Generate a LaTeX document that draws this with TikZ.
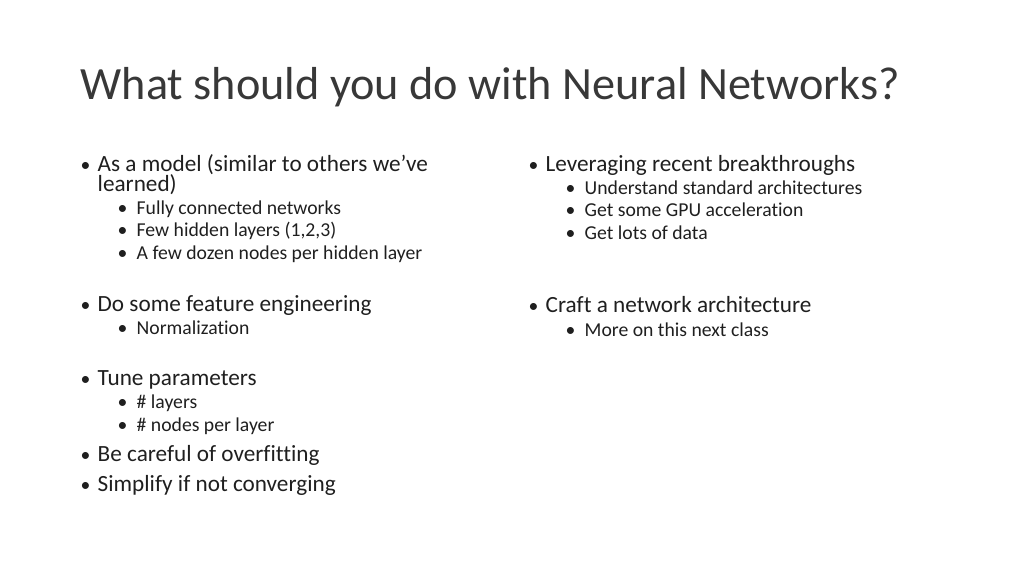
\documentclass[tikz,border=0pt]{standalone}
\usepackage{fontspec}
\setmainfont[Ligatures=NoCommon]{Carlito}
\begin{document}
\begin{tikzpicture}[x=0.01cm,y=-0.01cm,
  every node/.style={anchor=base west,inner sep=0pt},
  ttl/.style={font=\fontsize{13.15pt}{14pt}\selectfont,color=black!78},
  lone/.style={font=\fontsize{6.6pt}{7pt}\selectfont,color=black!88},
  ltwo/.style={font=\fontsize{5.6pt}{6pt}\selectfont,color=black!88}]
\useasboundingbox (0,0) rectangle (1024,576);
\node[ttl] (title) at (80,100) {What should you do with Neural Networks?};
% left column
\node[ltwo] (b1) at (80,172) {\textbullet};
\node[lone] (model) at (97,172) {As a model (similar to others we’ve};
\node[lone] (learned) at (97,192) {learned)};
\foreach \y/\t/\n in {215/Fully connected networks/fc,237/{Few hidden layers (1,2,3)}/few,259/A few dozen nodes per hidden layer/dozen}{
  \node[ltwo] (\n b) at (117,\y) {\textbullet};
  \node[ltwo] (\n) at (136,\y) {\t};
}
\node[ltwo] (b2) at (80,311) {\textbullet};
\node[lone] (feat) at (97,311) {Do some feature engineering};
\node[ltwo] (normb) at (117,334) {\textbullet};
\node[ltwo] (norm) at (136,334) {Normalization};
\node[ltwo] (b3) at (80,386) {\textbullet};
\node[lone] (tune) at (97,386) {Tune parameters};
\node[ltwo] (layb) at (117,409) {\textbullet};
\node[ltwo] (lay) at (136,409) {\# layers};
\node[ltwo] (nodb) at (117,431) {\textbullet};
\node[ltwo] (nod) at (136,431) {\# nodes per layer};
\node[ltwo] (b4) at (80,461) {\textbullet};
\node[lone] (care) at (97,461) {Be careful of overfitting};
\node[ltwo] (b5) at (80,491) {\textbullet};
\node[lone] (simp) at (97,491) {Simplify if not converging};
% right column
\node[ltwo] (c1) at (528,172) {\textbullet};
\node[lone] (lev) at (545,172) {Leveraging recent breakthroughs};
\foreach \y/\t/\n in {195/Understand standard architectures/arch,217/Get some GPU acceleration/gpu,240/Get lots of data/data}{
  \node[ltwo] (\n b) at (565,\y) {\textbullet};
  \node[ltwo] (\n) at (584,\y) {\t};
}
\node[ltwo] (c2) at (528,313) {\textbullet};
\node[lone] (craft) at (545,313) {Craft a network architecture};
\node[ltwo] (moreb) at (565,337) {\textbullet};
\node[ltwo] (more) at (584,337) {More on this next class};
\end{tikzpicture}
\end{document}
